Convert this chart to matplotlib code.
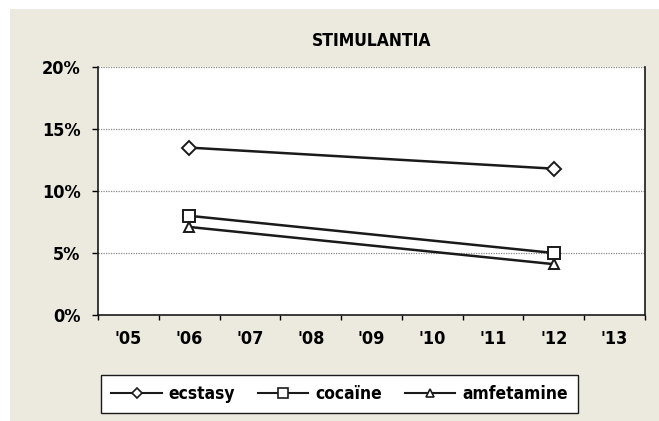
import matplotlib
matplotlib.use('Agg')
import matplotlib.pyplot as plt
from matplotlib.patches import Rectangle
import numpy as np

# data
years = ["'05", "'06", "'07", "'08", "'09", "'10", "'11", "'12", "'13"]
survey_years = ["'06", "'12"]
ecstasy = [13.5, 11.8]
cocaine = [8.0, 5.0]
amfetamine = [7.1, 4.1]
yticks = [0, 5, 10, 15, 20]

plt.rcParams['font.family'] = ['Liberation Sans Narrow', 'DejaVu Sans']
plt.rcParams['font.stretch'] = 'condensed'
plt.rcParams['font.weight'] = 'bold'
plt.rcParams['font.size'] = 12

W, H = 659, 421
fig = plt.figure(figsize=(W / 100, H / 100), dpi=100)
fig.patch.set_facecolor('white')
bg = Rectangle((10 / W, 0), 1 - 10 / W, 1 - 9 / H, transform=fig.transFigure,
               facecolor='#ECE9DF', edgecolor='none', zorder=-10)
fig.add_artist(bg)

ax = fig.add_axes([98 / W, 1 - 315 / H, (645 - 98) / W, (315 - 67) / H])
ax.set_facecolor('white')

xpos = [years.index(y) for y in survey_years]
series = [('ecstasy', ecstasy, 'D', 7), ('cocaïne', cocaine, 's', 8.5), ('amfetamine', amfetamine, '^', 6.5)]
for name, vals, m, ms in series:
    ax.plot(xpos, vals, color='#1a1a1a', lw=1.8, marker=m, markersize=ms,
            markerfacecolor='white', markeredgecolor='#1a1a1a', markeredgewidth=1.4,
            label=name, zorder=3)

ax.set_xlim(-0.5, len(years) - 0.5)
ax.set_ylim(0, 20)
ax.set_yticks(yticks)
ax.set_yticklabels([f'{v}%' for v in yticks], fontsize=13)
for v in yticks[1:]:
    ax.axhline(v, color='#888888', lw=0.9, ls=(0, (1, 1)), zorder=1)

ax.set_xticks(np.arange(-0.5, len(years), 1))
ax.set_xticklabels([])
ax.set_xticks(np.arange(len(years)), minor=True)
ax.set_xticklabels(years, minor=True, fontsize=13)
ax.tick_params(axis='x', which='major', length=3.5, width=1, direction='out')
ax.tick_params(axis='x', which='minor', length=0, pad=11)
ax.tick_params(axis='y', length=4.5, width=1, pad=8)

ax.spines['top'].set_visible(False)
for s in ['left', 'bottom', 'right']:
    ax.spines[s].set_color('#1a1a1a')
    ax.spines[s].set_linewidth(1.2)

fig.text((98 + 645) / 2 / W, 1 - 41 / H, 'STIMULANTIA', ha='center', va='center',
         fontsize=12.5, fontweight='bold')

leg = fig.legend(loc='center', bbox_to_anchor=((100 + 579) / 2 / W, 1 - 394 / H),
                 ncol=3, frameon=True, fancybox=False, fontsize=12.5, handlelength=2.9,
                 columnspacing=1.3, borderpad=0.6, handletextpad=0.4, borderaxespad=0)
for h in leg.legend_handles:
    h.set_linewidth(1.5)
    h.set_markersize(h.get_markersize() * 0.8)
    h.set_markeredgewidth(1.2)
leg.get_frame().set_edgecolor('#1a1a1a')
leg.get_frame().set_facecolor('white')
leg.get_frame().set_alpha(1)
leg.get_frame().set_linewidth(1)

fig.savefig('out.png', dpi=100)
